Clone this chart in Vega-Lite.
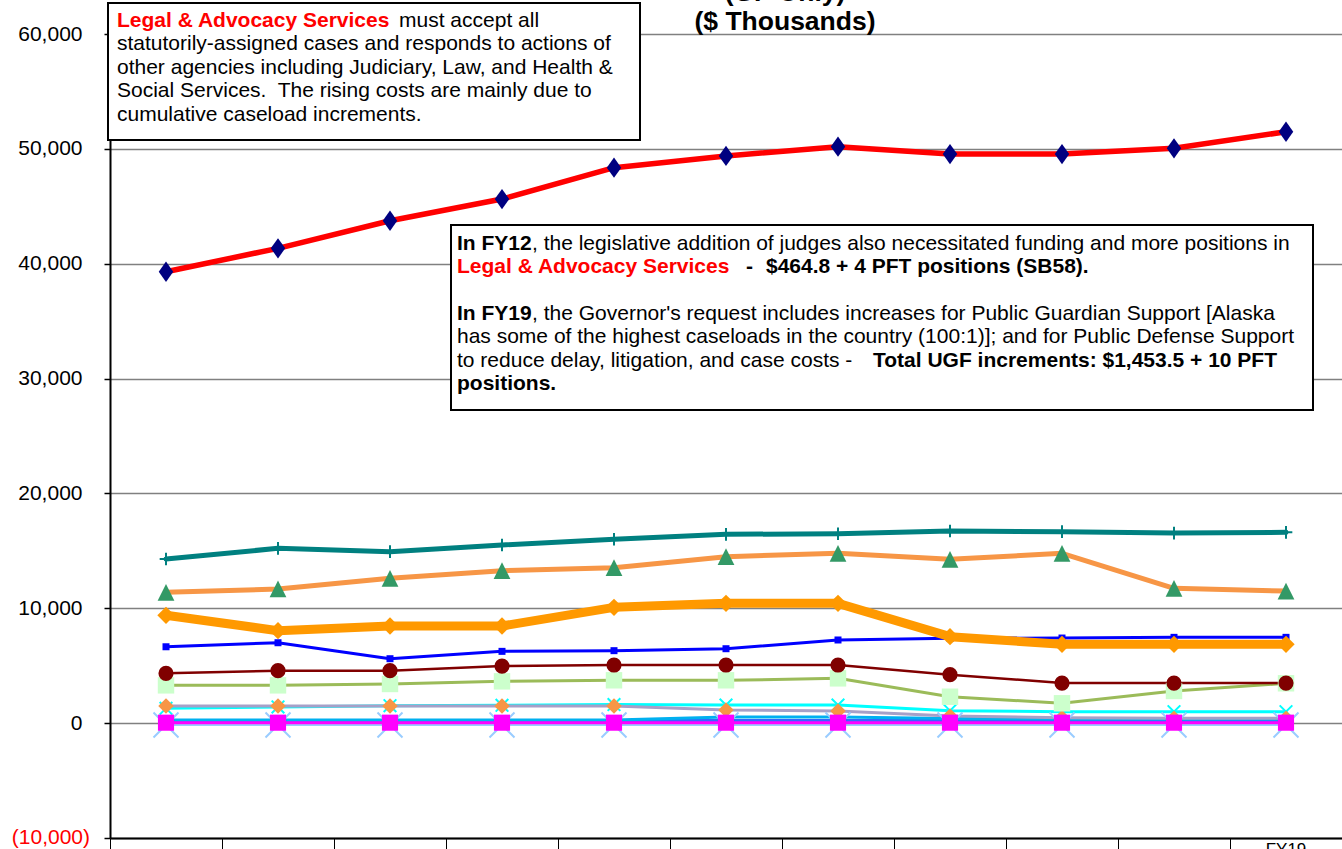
{
  "$schema": "https://vega.github.io/schema/vega-lite/v6.json",
  "width": 1232,
  "height": 804,
  "autosize": {"type": "none"},
  "padding": {"left": 110, "top": 34, "right": 0, "bottom": 11},
  "background": "white",
  "config": {
    "view": {"stroke": "#808080", "strokeWidth": 1},
    "font": "Liberation Sans"
  },
  "datasets": {
    "budget": [
      {"fy": "FY09", "Legal & Advocacy Services": 39300, "Centralized Administrative Services": 14290, "Motor Vehicles": 11390, "Enterprise Technology Services": 9390, "General Services": 6650, "Retirement and Benefits": 4340, "Administration State Facilities Rent": 3290, "Alaska Oil and Gas Conservation Commission": 1490, "Public Communications Services": 1290, "Labor Relations": 270, "Risk Management": 190, "Violent Crimes Compensation Board": 40, "Alaska Public Offices Commission": -160},
      {"fy": "FY10", "Legal & Advocacy Services": 41340, "Centralized Administrative Services": 15220, "Motor Vehicles": 11680, "Enterprise Technology Services": 8050, "General Services": 7000, "Retirement and Benefits": 4570, "Administration State Facilities Rent": 3290, "Alaska Oil and Gas Conservation Commission": 1490, "Public Communications Services": 1410, "Labor Relations": 270, "Risk Management": 190, "Violent Crimes Compensation Board": 40, "Alaska Public Offices Commission": -160},
      {"fy": "FY11", "Legal & Advocacy Services": 43740, "Centralized Administrative Services": 14930, "Motor Vehicles": 12610, "Enterprise Technology Services": 8460, "General Services": 5610, "Retirement and Benefits": 4570, "Administration State Facilities Rent": 3410, "Alaska Oil and Gas Conservation Commission": 1490, "Public Communications Services": 1520, "Labor Relations": 270, "Risk Management": 190, "Violent Crimes Compensation Board": 40, "Alaska Public Offices Commission": -160},
      {"fy": "FY12", "Legal & Advocacy Services": 45630, "Centralized Administrative Services": 15510, "Motor Vehicles": 13270, "Enterprise Technology Services": 8460, "General Services": 6250, "Retirement and Benefits": 4970, "Administration State Facilities Rent": 3640, "Alaska Oil and Gas Conservation Commission": 1490, "Public Communications Services": 1550, "Labor Relations": 270, "Risk Management": 190, "Violent Crimes Compensation Board": 40, "Alaska Public Offices Commission": -160},
      {"fy": "FY13", "Legal & Advocacy Services": 48360, "Centralized Administrative Services": 16010, "Motor Vehicles": 13530, "Enterprise Technology Services": 10080, "General Services": 6310, "Retirement and Benefits": 5060, "Administration State Facilities Rent": 3730, "Alaska Oil and Gas Conservation Commission": 1490, "Public Communications Services": 1620, "Labor Relations": 270, "Risk Management": 190, "Violent Crimes Compensation Board": 40, "Alaska Public Offices Commission": -160},
      {"fy": "FY14", "Legal & Advocacy Services": 49380, "Centralized Administrative Services": 16440, "Motor Vehicles": 14490, "Enterprise Technology Services": 10430, "General Services": 6480, "Retirement and Benefits": 5060, "Administration State Facilities Rent": 3730, "Alaska Oil and Gas Conservation Commission": 1140, "Public Communications Services": 1580, "Labor Relations": 530, "Risk Management": 190, "Violent Crimes Compensation Board": 40, "Alaska Public Offices Commission": -160},
      {"fy": "FY15", "Legal & Advocacy Services": 50190, "Centralized Administrative Services": 16490, "Motor Vehicles": 14790, "Enterprise Technology Services": 10430, "General Services": 7240, "Retirement and Benefits": 5060, "Administration State Facilities Rent": 3900, "Alaska Oil and Gas Conservation Commission": 1060, "Public Communications Services": 1580, "Labor Relations": 530, "Risk Management": 190, "Violent Crimes Compensation Board": 40, "Alaska Public Offices Commission": -160},
      {"fy": "FY16", "Legal & Advocacy Services": 49550, "Centralized Administrative Services": 16730, "Motor Vehicles": 14260, "Enterprise Technology Services": 7530, "General Services": 7390, "Retirement and Benefits": 4220, "Administration State Facilities Rent": 2300, "Alaska Oil and Gas Conservation Commission": 620, "Public Communications Services": 1080, "Labor Relations": 400, "Risk Management": 190, "Violent Crimes Compensation Board": 40, "Alaska Public Offices Commission": -160},
      {"fy": "FY17", "Legal & Advocacy Services": 49550, "Centralized Administrative Services": 16670, "Motor Vehicles": 14790, "Enterprise Technology Services": 6860, "General Services": 7410, "Retirement and Benefits": 3490, "Administration State Facilities Rent": 1730, "Alaska Oil and Gas Conservation Commission": 470, "Public Communications Services": 1000, "Labor Relations": 360, "Risk Management": 190, "Violent Crimes Compensation Board": 40, "Alaska Public Offices Commission": -160},
      {"fy": "FY18", "Legal & Advocacy Services": 50050, "Centralized Administrative Services": 16550, "Motor Vehicles": 11740, "Enterprise Technology Services": 6860, "General Services": 7470, "Retirement and Benefits": 3490, "Administration State Facilities Rent": 2800, "Alaska Oil and Gas Conservation Commission": 420, "Public Communications Services": 1000, "Labor Relations": 360, "Risk Management": 190, "Violent Crimes Compensation Board": 40, "Alaska Public Offices Commission": -160},
      {"fy": "FY19", "Legal & Advocacy Services": 51490, "Centralized Administrative Services": 16610, "Motor Vehicles": 11500, "Enterprise Technology Services": 6860, "General Services": 7470, "Retirement and Benefits": 3490, "Administration State Facilities Rent": 3470, "Alaska Oil and Gas Conservation Commission": 420, "Public Communications Services": 1000, "Labor Relations": 360, "Risk Management": 190, "Violent Crimes Compensation Board": 40, "Alaska Public Offices Commission": -160}
    ]
  },
  "layer": [
    {
      "data": {"name": "budget"},
      "transform": [
        {"fold": ["Alaska Public Offices Commission", "Risk Management", "Labor Relations", "Public Communications Services", "Alaska Oil and Gas Conservation Commission", "Violent Crimes Compensation Board", "Administration State Facilities Rent", "Retirement and Benefits", "General Services", "Enterprise Technology Services", "Motor Vehicles", "Centralized Administrative Services", "Legal & Advocacy Services"], "as": ["series", "value"]}
      ],
      "encoding": {
        "x": {
          "field": "fy", "type": "ordinal", "bandPosition": 0.5,
          "scale": {"type": "band", "paddingInner": 0, "paddingOuter": 0, "domain": ["FY09", "FY10", "FY11", "FY12", "FY13", "FY14", "FY15", "FY16", "FY17", "FY18", "FY19"]},
          "axis": {"title": null, "bandPosition": 0, "labelOffset": 0, "labelAngle": 0, "labelExpr": "datum.value == 'FY19' ? 'FY19' : ''", "labelFontSize": 17, "labelFont": "Liberation Sans", "labelColor": "black", "labelBaseline": "top", "labelPadding": -8, "tickSize": 11, "tickColor": "black", "tickWidth": 1, "domainColor": "black", "domainWidth": 2, "grid": false}
        },
        "y": {
          "field": "value", "type": "quantitative",
          "scale": {"domain": [-10000, 60000], "nice": false, "zero": false},
          "axis": {"title": null, "values": [-10000, 0, 10000, 20000, 30000, 40000, 50000, 60000], "grid": true, "gridColor": "#808080", "gridWidth": 1.3, "domainColor": "black", "domainWidth": 2, "tickColor": "black", "tickSize": 6, "tickWidth": 1.5, "labelFontSize": 21, "labelFont": "Liberation Sans", "labelPadding": 22, "labelColor": "black", "labelExpr": "datum.value < 0 ? '' : format(datum.value, ',')"}
        }
      },
      "layer": [
        {
          "mark": {"type": "line", "strokeJoin": "round", "strokeCap": "round"},
          "encoding": {
            "color": {"field": "series", "type": "nominal", "legend": null, "scale": {"domain": ["Alaska Public Offices Commission", "Risk Management", "Labor Relations", "Public Communications Services", "Alaska Oil and Gas Conservation Commission", "Violent Crimes Compensation Board", "Administration State Facilities Rent", "Retirement and Benefits", "General Services", "Enterprise Technology Services", "Motor Vehicles", "Centralized Administrative Services", "Legal & Advocacy Services"], "range": ["#99CCFF", "#3366FF", "#00B0F0", "#00FFFF", "#A6A0C8", "#FF00FF", "#9BBB59", "#800000", "#0000FF", "#FF9900", "#F79646", "#008080", "#FF0000"]}},
            "strokeWidth": {"field": "series", "type": "nominal", "legend": null, "scale": {"type": "ordinal", "domain": ["Alaska Public Offices Commission", "Risk Management", "Labor Relations", "Public Communications Services", "Alaska Oil and Gas Conservation Commission", "Violent Crimes Compensation Board", "Administration State Facilities Rent", "Retirement and Benefits", "General Services", "Enterprise Technology Services", "Motor Vehicles", "Centralized Administrative Services", "Legal & Advocacy Services"], "range": [2, 4, 3, 3, 3, 3, 3, 2.5, 3, 9, 5, 5, 5.5]}}
          }
        },
        {
          "transform": [{"filter": {"field": "series", "oneOf": ["Alaska Public Offices Commission", "Public Communications Services", "Centralized Administrative Services"]}}],
          "mark": {"type": "point", "filled": false, "opacity": 1, "strokeWidth": 2},
          "encoding": {
            "shape": {"field": "series", "type": "nominal", "legend": null, "scale": {"domain": ["Alaska Public Offices Commission", "Public Communications Services", "Centralized Administrative Services"], "range": ["M-1,-1L1,1M1,-1L-1,1", "M-1,-1L1,1M1,-1L-1,1", "M0,-1V1M-1,0H1"]}},
            "size": {"field": "series", "type": "nominal", "legend": null, "scale": {"type": "ordinal", "domain": ["Alaska Public Offices Commission", "Public Communications Services", "Centralized Administrative Services"], "range": [625, 160, 160]}},
            "stroke": {"field": "series", "type": "nominal", "legend": null, "scale": {"domain": ["Alaska Public Offices Commission", "Public Communications Services", "Centralized Administrative Services"], "range": ["#99CCFF", "#00FFFF", "#008080"]}}
          }
        },
        {
          "transform": [{"filter": {"field": "series", "oneOf": ["Alaska Oil and Gas Conservation Commission", "Violent Crimes Compensation Board", "Administration State Facilities Rent", "Retirement and Benefits", "General Services", "Enterprise Technology Services", "Motor Vehicles", "Legal & Advocacy Services"]}}],
          "mark": {"type": "point", "filled": true, "opacity": 1},
          "encoding": {
            "shape": {"field": "series", "type": "nominal", "legend": null, "scale": {"domain": ["Alaska Oil and Gas Conservation Commission", "Violent Crimes Compensation Board", "Administration State Facilities Rent", "Retirement and Benefits", "General Services", "Enterprise Technology Services", "Motor Vehicles", "Legal & Advocacy Services"], "range": ["diamond", "square", "square", "circle", "square", "diamond", "M0,-1L1,1L-1,1Z", "M0,-1.4L1,0L0,1.4L-1,0Z"]}},
            "size": {"field": "series", "type": "nominal", "legend": null, "scale": {"type": "ordinal", "domain": ["Alaska Oil and Gas Conservation Commission", "Violent Crimes Compensation Board", "Administration State Facilities Rent", "Retirement and Benefits", "General Services", "Enterprise Technology Services", "Motor Vehicles", "Legal & Advocacy Services"], "range": [240, 260, 270, 230, 49, 300, 280, 210]}},
            "fill": {"field": "series", "type": "nominal", "legend": null, "scale": {"domain": ["Alaska Oil and Gas Conservation Commission", "Violent Crimes Compensation Board", "Administration State Facilities Rent", "Retirement and Benefits", "General Services", "Enterprise Technology Services", "Motor Vehicles", "Legal & Advocacy Services"], "range": ["#F79646", "#FF00FF", "#CCFFCC", "#800000", "#0000FF", "#FF9900", "#339966", "#000080"]}}
          }
        }
      ],
      "resolve": {"scale": {"shape": "independent", "size": "independent"}}
    },
    {
      "data": {"values": [{}]},
      "mark": {"type": "text", "text": "(10,000)", "align": "right", "baseline": "middle", "dx": -20, "font": "Liberation Sans", "fontSize": 21, "fill": "#FF0000"},
      "encoding": {"x": {"datum": "FY09", "type": "ordinal", "bandPosition": 0}, "y": {"datum": -10000, "type": "quantitative"}}
    },
    {
      "data": {"values": [{}]},
      "mark": {"type": "rect", "fill": "white", "stroke": "black", "strokeWidth": 2, "xOffset": -2, "x2Offset": 82},
      "encoding": {
        "x": {"datum": "FY09", "type": "ordinal", "bandPosition": 0},
        "x2": {"datum": "FY13", "bandPosition": 0},
        "y": {"datum": 62700, "type": "quantitative"},
        "y2": {"datum": 50770}
      }
    },
    {
      "data": {"values": [{}]},
      "mark": {"type": "rect", "fill": "white", "stroke": "black", "strokeWidth": 2, "xOffset": 5, "x2Offset": 83},
      "encoding": {
        "x": {"datum": "FY12", "type": "ordinal", "bandPosition": 0},
        "x2": {"datum": "FY19", "bandPosition": 0},
        "y": {"datum": 43370, "type": "quantitative"},
        "y2": {"datum": 27260}
      }
    },
    {
      "data": {"values": [{}]},
      "mark": {"type": "text", "text": "Legal & Advocacy Services", "align": "left", "baseline": "alphabetic", "dx": 7, "font": "Liberation Sans", "fontSize": 21, "fontWeight": "bold", "fill": "#FF0000"},
      "encoding": {"x": {"datum": "FY09", "type": "ordinal", "bandPosition": 0}, "y": {"datum": 60630, "type": "quantitative"}}
    },
    {
      "data": {"values": [{}]},
      "mark": {"type": "text", "text": "must accept all", "align": "left", "baseline": "alphabetic", "dx": 289, "font": "Liberation Sans", "fontSize": 21, "fill": "black"},
      "encoding": {"x": {"datum": "FY09", "type": "ordinal", "bandPosition": 0}, "y": {"datum": 60630, "type": "quantitative"}}
    },
    {
      "data": {"values": [{}]},
      "mark": {"type": "text", "text": ["statutorily-assigned cases and responds to actions of", "other agencies including Judiciary, Law, and Health &", "Social Services.\u00a0 The rising costs are mainly due to", "cumulative caseload increments."], "lineHeight": 23.6, "align": "left", "baseline": "alphabetic", "dx": 7, "font": "Liberation Sans", "fontSize": 21, "fill": "black"},
      "encoding": {"x": {"datum": "FY09", "type": "ordinal", "bandPosition": 0}, "y": {"datum": 58605, "type": "quantitative"}}
    },
    {
      "data": {"values": [{}]},
      "mark": {"type": "text", "text": "In FY12", "align": "left", "baseline": "alphabetic", "dx": 11, "font": "Liberation Sans", "fontSize": 21, "fontWeight": "bold", "fill": "black"},
      "encoding": {"x": {"datum": "FY12", "type": "ordinal", "bandPosition": 0}, "y": {"datum": 41190, "type": "quantitative"}}
    },
    {
      "data": {"values": [{}]},
      "mark": {"type": "text", "text": ", the legislative addition of judges also necessitated funding and more positions in", "align": "left", "baseline": "alphabetic", "dx": 86, "font": "Liberation Sans", "fontSize": 21, "fill": "black"},
      "encoding": {"x": {"datum": "FY12", "type": "ordinal", "bandPosition": 0}, "y": {"datum": 41190, "type": "quantitative"}}
    },
    {
      "data": {"values": [{}]},
      "mark": {"type": "text", "text": "Legal & Advocacy Services", "align": "left", "baseline": "alphabetic", "dx": 11, "font": "Liberation Sans", "fontSize": 21, "fontWeight": "bold", "fill": "#FF0000"},
      "encoding": {"x": {"datum": "FY12", "type": "ordinal", "bandPosition": 0}, "y": {"datum": 39190, "type": "quantitative"}}
    },
    {
      "data": {"values": [{}]},
      "mark": {"type": "text", "text": "-", "align": "left", "baseline": "alphabetic", "dx": 300, "font": "Liberation Sans", "fontSize": 21, "fontWeight": "bold", "fill": "black"},
      "encoding": {"x": {"datum": "FY12", "type": "ordinal", "bandPosition": 0}, "y": {"datum": 39190, "type": "quantitative"}}
    },
    {
      "data": {"values": [{}]},
      "mark": {"type": "text", "text": "$464.8 + 4 PFT positions (SB58).", "align": "left", "baseline": "alphabetic", "dx": 320, "font": "Liberation Sans", "fontSize": 21, "fontWeight": "bold", "fill": "black"},
      "encoding": {"x": {"datum": "FY12", "type": "ordinal", "bandPosition": 0}, "y": {"datum": 39190, "type": "quantitative"}}
    },
    {
      "data": {"values": [{}]},
      "mark": {"type": "text", "text": "In FY19", "align": "left", "baseline": "alphabetic", "dx": 11, "font": "Liberation Sans", "fontSize": 21, "fontWeight": "bold", "fill": "black"},
      "encoding": {"x": {"datum": "FY12", "type": "ordinal", "bandPosition": 0}, "y": {"datum": 35100, "type": "quantitative"}}
    },
    {
      "data": {"values": [{}]},
      "mark": {"type": "text", "text": ", the Governor's request includes increases for Public Guardian Support [Alaska", "align": "left", "baseline": "alphabetic", "dx": 86, "font": "Liberation Sans", "fontSize": 21, "fill": "black"},
      "encoding": {"x": {"datum": "FY12", "type": "ordinal", "bandPosition": 0}, "y": {"datum": 35100, "type": "quantitative"}}
    },
    {
      "data": {"values": [{}]},
      "mark": {"type": "text", "text": ["has some of the highest caseloads in the country (100:1)]; and for Public Defense Support", "to reduce delay, litigation, and case costs -"], "lineHeight": 24, "align": "left", "baseline": "alphabetic", "dx": 11, "font": "Liberation Sans", "fontSize": 21, "fill": "black"},
      "encoding": {"x": {"datum": "FY12", "type": "ordinal", "bandPosition": 0}, "y": {"datum": 33120, "type": "quantitative"}}
    },
    {
      "data": {"values": [{}]},
      "mark": {"type": "text", "text": "Total UGF increments: $1,453.5 + 10 PFT", "align": "left", "baseline": "alphabetic", "dx": 427, "font": "Liberation Sans", "fontSize": 21, "fontWeight": "bold", "fill": "black"},
      "encoding": {"x": {"datum": "FY12", "type": "ordinal", "bandPosition": 0}, "y": {"datum": 31030, "type": "quantitative"}}
    },
    {
      "data": {"values": [{}]},
      "mark": {"type": "text", "text": "positions.", "align": "left", "baseline": "alphabetic", "dx": 11, "font": "Liberation Sans", "fontSize": 21, "fontWeight": "bold", "fill": "black"},
      "encoding": {"x": {"datum": "FY12", "type": "ordinal", "bandPosition": 0}, "y": {"datum": 29000, "type": "quantitative"}}
    },
    {
      "data": {"values": [{}]},
      "mark": {"type": "text", "text": ["(GF Only)", "($ Thousands)"], "lineHeight": 29, "align": "center", "baseline": "alphabetic", "dx": 3, "font": "Liberation Sans", "fontSize": 26.5, "fontWeight": "bold", "fill": "black"},
      "encoding": {"x": {"datum": "FY15", "type": "ordinal", "bandPosition": 0}, "y": {"datum": 62830, "type": "quantitative"}}
    }
  ]
}
